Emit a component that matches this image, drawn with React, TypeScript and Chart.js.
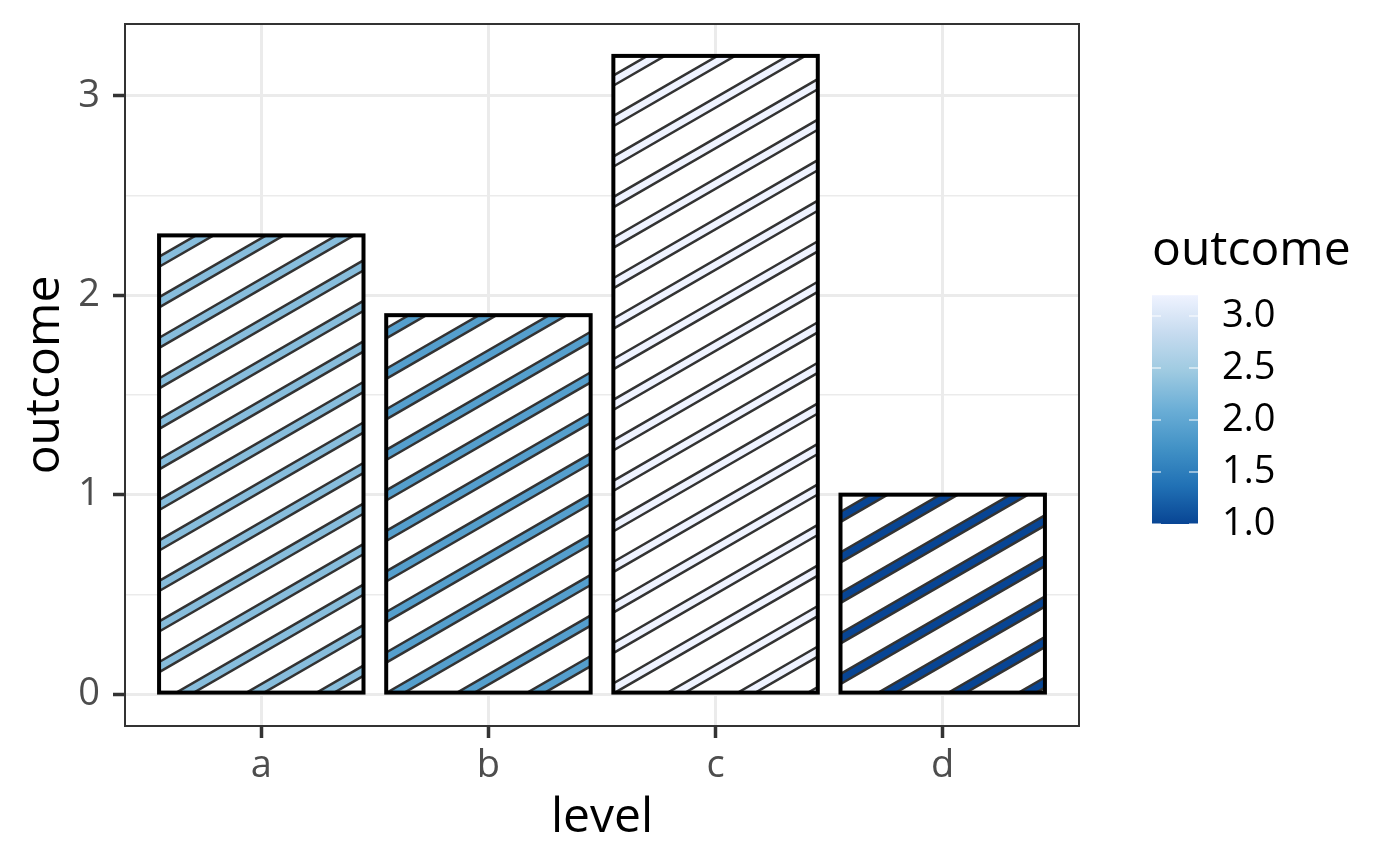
import React, { useEffect, useRef } from 'react';
import { Chart, registerables } from 'chart.js';

Chart.register(...registerables);

// ---- data ----
const levels = ['a', 'b', 'c', 'd'];
const outcome = [2.3, 1.9, 3.2, 1.0];
const yTickValues = [0, 0.5, 1, 1.5, 2, 2.5, 3];
const legendBreaks = [1.0, 1.5, 2.0, 2.5, 3.0];
const xTitle = 'level';
const yTitle = 'outcome';
const legendTitle = 'outcome';

// ---- style ----
const bluesPalette = ['#084594', '#2171B5', '#4292C6', '#6BAED6', '#9ECAE1', '#C6DBEF', '#EFF3FF'];
const FONT = '"Open Sans", "Noto Sans", sans-serif';
const TICK_SIZE = 38;
const TITLE_SIZE = 48;

function hexToRgb(h: string): number[] {
  const n = parseInt(h.slice(1), 16);
  return [(n >> 16) & 255, (n >> 8) & 255, n & 255];
}
function colorAt(t: number): string {
  const tt = Math.max(0, Math.min(1, t));
  const pos = tt * (bluesPalette.length - 1);
  const i = Math.min(Math.floor(pos), bluesPalette.length - 2);
  const f = pos - i;
  const a = hexToRgb(bluesPalette[i]);
  const b = hexToRgb(bluesPalette[i + 1]);
  const c = a.map((v, k) => Math.round(v + (b[k] - v) * f));
  return `rgb(${c[0]},${c[1]},${c[2]})`;
}
const vMin = Math.min(...outcome);
const vMax = Math.max(...outcome);
const fillFor = (v: number) => colorAt((v - vMin) / (vMax - vMin));

const stripePlugin = {
  id: 'stripes',
  afterDatasetsDraw(chart: any) {
    const ctx = chart.ctx as CanvasRenderingContext2D;
    const area = chart.chartArea;
    const yScale = chart.scales.y;
    const y0 = yScale.getPixelForValue(0);
    const s = 0.05 * (area.bottom - area.top);
    const p0 = 0.4 * s;
    const w = 0.25 * s;
    const ang = Math.PI / 6;
    const sin = Math.sin(ang);
    const cos = Math.cos(ang);
    const pOf = (X: number, Y: number) => -sin * X + cos * (y0 - Y);
    const meta = chart.getDatasetMeta(0);
    meta.data.forEach((bar: any, i: number) => {
      const { x, y, base, width } = bar.getProps(['x', 'y', 'base', 'width'], true);
      const left = x - width / 2;
      const right = x + width / 2;
      const top = Math.min(y, base);
      const bottom = Math.max(y, base);
      const col = fillFor(outcome[i]);
      ctx.save();
      ctx.beginPath();
      ctx.rect(left, top, right - left, bottom - top);
      ctx.clip();
      const ps = [pOf(left, top), pOf(left, bottom), pOf(right, top), pOf(right, bottom)];
      const kMin = Math.floor((Math.min(...ps) - p0) / s) - 1;
      const kMax = Math.ceil((Math.max(...ps) - p0) / s) + 1;
      const M = 2000;
      const nx = -sin, ny = -cos;
      const dx = cos, dy = -sin;
      const h = w / 2;
      for (let k = kMin; k <= kMax; k++) {
        const c = p0 + k * s;
        const X = x;
        const Y = y0 - (c + sin * X) / cos;
        ctx.beginPath();
        ctx.moveTo(X + nx * h - dx * M, Y + ny * h - dy * M);
        ctx.lineTo(X + nx * h + dx * M, Y + ny * h + dy * M);
        ctx.lineTo(X - nx * h + dx * M, Y - ny * h + dy * M);
        ctx.lineTo(X - nx * h - dx * M, Y - ny * h - dy * M);
        ctx.closePath();
        ctx.fillStyle = col;
        ctx.fill();
        ctx.strokeStyle = '#333333';
        ctx.lineWidth = 2.5;
        ctx.stroke();
      }
      ctx.restore();
      ctx.save();
      ctx.lineWidth = 4;
      ctx.strokeStyle = '#000000';
      ctx.strokeRect(left, top, right - left, bottom - top);
      ctx.restore();
    });
  },
  afterDraw(chart: any) {
    const ctx = chart.ctx as CanvasRenderingContext2D;
    const area = chart.chartArea;
    ctx.save();
    // panel border
    ctx.strokeStyle = '#333333';
    ctx.lineWidth = 2;
    ctx.strokeRect(area.left, area.top, area.right - area.left, area.bottom - area.top);

    // axis titles
    ctx.fillStyle = '#000000';
    ctx.font = `${TITLE_SIZE}px ${FONT}`;
    ctx.textAlign = 'center';
    ctx.textBaseline = 'alphabetic';
    ctx.fillText(xTitle, (area.left + area.right) / 2, 832);
    ctx.save();
    ctx.translate(59, (area.top + area.bottom) / 2);
    ctx.rotate(-Math.PI / 2);
    ctx.fillText(yTitle, 0, 0);
    ctx.restore();

    // legend
    const barLeft = area.right + 73;
    const barW = 46;
    const barBottom = 524;
    const pxPerUnit = 104;
    const barTop = barBottom - (vMax - vMin) * pxPerUnit;
    const yOf = (v: number) => barBottom - (v - vMin) * pxPerUnit;
    const grad = ctx.createLinearGradient(0, barBottom, 0, barTop);
    bluesPalette.forEach((c, i) => grad.addColorStop(i / (bluesPalette.length - 1), c));
    ctx.fillStyle = grad;
    ctx.fillRect(barLeft, barTop, barW, barBottom - barTop);
    ctx.strokeStyle = '#FFFFFF';
    ctx.lineWidth = 1.2;
    legendBreaks.forEach((v) => {
      const yy = yOf(v);
      ctx.beginPath();
      ctx.moveTo(barLeft, yy);
      ctx.lineTo(barLeft + 9, yy);
      ctx.moveTo(barLeft + barW - 9, yy);
      ctx.lineTo(barLeft + barW, yy);
      ctx.stroke();
    });
    ctx.fillStyle = '#000000';
    ctx.textAlign = 'left';
    ctx.font = `${TITLE_SIZE}px ${FONT}`;
    ctx.textBaseline = 'alphabetic';
    ctx.fillText(legendTitle, barLeft, 265);
    ctx.font = `${TICK_SIZE}px ${FONT}`;
    ctx.textBaseline = 'middle';
    legendBreaks.forEach((v) => {
      ctx.fillText(v.toFixed(1), barLeft + barW + 24, yOf(v));
    });
    ctx.restore();
  },
};

export default function App() {
  const ref = useRef<HTMLCanvasElement>(null);
  useEffect(() => {
    const isInt = (c: any) => c && c.tick && Number.isInteger(c.tick.value);
    const chart = new Chart(ref.current as HTMLCanvasElement, {
      type: 'bar',
      data: {
        datasets: [
          {
            data: outcome.map((v, i) => ({ x: i + 1, y: v })),
            backgroundColor: '#FFFFFF',
            borderWidth: 0,
            barPercentage: 0.9,
            categoryPercentage: 1.0,
          } as any,
        ],
      },
      options: {
        animation: false,
        responsive: false,
        devicePixelRatio: 1,
        layout: { padding: { top: 24, right: 321, left: 0, bottom: 0 } },
        plugins: { legend: { display: false }, tooltip: { enabled: false } },
        scales: {
          x: {
            type: 'linear',
            offset: false,
            min: 0.4,
            max: 4.6,
            afterBuildTicks: (sc: any) => {
              sc.ticks = levels.map((_, i) => ({ value: i + 1 }));
            },
            afterFit: (sc: any) => {
              sc.height = 140;
              sc.paddingLeft = 0;
              sc.paddingRight = 0;
            },
            ticks: {
              callback: (v: any) => levels[Math.round(Number(v)) - 1] ?? '',
              font: { family: FONT, size: TICK_SIZE },
              color: '#4D4D4D',
              padding: 5,
              maxRotation: 0,
              autoSkip: false,
            },
            grid: {
              offset: false,
              color: '#EBEBEB',
              lineWidth: 3,
              tickLength: 12,
              tickColor: '#333333',
              tickWidth: 3.5,
              drawTicks: true,
            },
            border: { display: false },
          },
          y: {
            type: 'linear',
            min: -0.16,
            max: 3.36,
            afterBuildTicks: (sc: any) => {
              sc.ticks = yTickValues.map((v) => ({ value: v }));
            },
            afterFit: (sc: any) => {
              sc.width = 125;
              sc.paddingTop = 0;
              sc.paddingBottom = 0;
            },
            ticks: {
              callback: (v: any) => (Number.isInteger(Number(v)) ? String(v) : ''),
              font: { family: FONT, size: TICK_SIZE },
              color: '#4D4D4D',
              padding: 13,
              autoSkip: false,
            },
            grid: {
              color: '#EBEBEB',
              lineWidth: (c: any) => (isInt(c) ? 3 : 1.5),
              tickLength: 12,
              tickColor: (c: any) => (isInt(c) ? '#333333' : 'rgba(0,0,0,0)'),
              tickWidth: 3.5,
              drawTicks: true,
            },
            border: { display: false },
          },
        },
      } as any,
      plugins: [stripePlugin],
    });
    return () => chart.destroy();
  }, []);
  return (
    <div style={{ position: 'absolute', left: 0, top: 0, width: 1400, height: 866, background: '#FFFFFF' }}>
      <canvas ref={ref} width={1400} height={866} style={{ width: 1400, height: 866, display: 'block' }} />
    </div>
  );
}
